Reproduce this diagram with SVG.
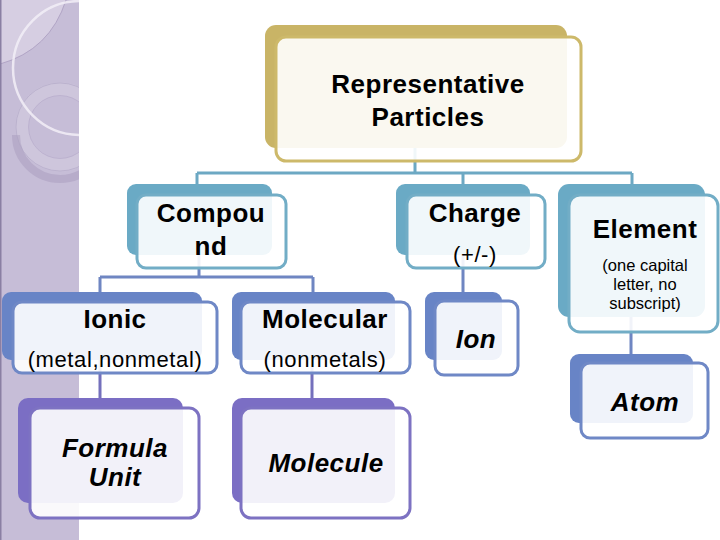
<svg xmlns="http://www.w3.org/2000/svg" width="720" height="540" viewBox="0 0 720 540">
<defs>
<style>
.t{font-family:"Liberation Sans",Arial,sans-serif;fill:#000;text-anchor:middle}
.b{font-weight:bold;font-size:26px;letter-spacing:0.5px}
.bi{font-weight:bold;font-style:italic;font-size:26px;letter-spacing:0.5px}
.n{font-size:22px;letter-spacing:0.6px}
.s{font-size:16.5px}
.front{fill:#ffffff;fill-opacity:0.9;stroke-width:3}
.gold{fill:#c9b466}
.teal{fill:#6aaac5}
.blue{fill:#6884c6}
.purp{fill:#7b6ec4}
.sgold{stroke:#cdb96a}
.steal{stroke:#72adc6}
.sblue{stroke:#6f88c6}
.spurp{stroke:#7d72c2}
.c{fill:none;stroke-width:3}
</style>
<clipPath id="pc"><rect x="0" y="0" width="79" height="540"/></clipPath>
</defs>
<rect width="720" height="540" fill="#ffffff"/>
<g id="side-panel">
<rect x="0" y="0" width="79" height="540" fill="#c6bdd7"/>
<path d="M0,0 H66 Q50,50 0,64 Z" fill="#d6cee2"/>
<path d="M0,64 Q50,50 66,0" fill="none" stroke="#a99cbf" stroke-width="0.8"/>
<g clip-path="url(#pc)">
<circle cx="60" cy="127" r="38" fill="none" stroke="#ffffff" stroke-opacity="0.14" stroke-width="13"/>
<path d="M16,135 A44,44 0 0,0 104,135" fill="none" stroke="#9a8db3" stroke-opacity="0.35" stroke-width="8"/>
<circle cx="60" cy="127" r="44" fill="none" stroke="#a598bc" stroke-opacity="0.45" stroke-width="1"/>
<circle cx="60" cy="127" r="31.5" fill="none" stroke="#a598bc" stroke-opacity="0.35" stroke-width="1"/>
<circle cx="80" cy="68" r="67" fill="none" stroke="#f2eef7" stroke-opacity="0.85" stroke-width="2.5"/>
</g>
<rect x="0" y="0" width="1.5" height="540" fill="#8a7fa3"/>
</g>
<g id="connectors">
<path class="c" stroke="#6ca8c3" d="M415,148 V173 M197,173 H632 M197,173 V186 M463,173 V186 M632,173 V186"/>
<path class="c" stroke="#6f86c2" d="M199,255 V277 M100,277 H313 M100,277 V294 M313,277 V294 M463,255 V294 M631,317 V356"/>
<path class="c" stroke="#7470bc" d="M100,360 V400 M312,360 V400"/>
</g>
<g id="representative-particles">
<rect class="gold" x="265" y="25" width="302" height="123" rx="11"/>
<rect class="front sgold" x="276" y="37" width="305" height="124" rx="10"/>
<text class="t b" x="428" y="93">Representative</text>
<text class="t b" x="428" y="126">Particles</text>
</g>
<g id="compound">
<rect class="teal" x="127" y="184" width="145" height="71" rx="9"/>
<rect class="front steal" x="137" y="195" width="149" height="73" rx="9"/>
<text class="t b" x="211" y="222">Compou</text>
<text class="t b" x="211" y="255">nd</text>
</g>
<g id="charge">
<rect class="teal" x="396" y="184" width="134" height="71" rx="9"/>
<rect class="front steal" x="407" y="195" width="138" height="73" rx="9"/>
<text class="t b" x="475" y="222">Charge</text>
<text class="t n" x="475" y="262">(+/-)</text>
</g>
<g id="element">
<rect class="teal" x="558" y="184" width="147" height="133" rx="11"/>
<rect class="front steal" x="569" y="195" width="149" height="137" rx="11"/>
<text class="t b" x="645" y="238">Element</text>
<text class="t s" x="645" y="271">(one capital</text>
<text class="t s" x="645" y="290">letter, no</text>
<text class="t s" x="645" y="309">subscript)</text>
</g>
<g id="ionic">
<rect class="blue" x="2" y="292" width="200" height="68" rx="9"/>
<rect class="front sblue" x="13" y="302" width="204" height="71" rx="9"/>
<text class="t b" x="115" y="328">Ionic</text>
<text class="t n" x="115" y="367">(metal,nonmetal)</text>
</g>
<g id="molecular">
<rect class="blue" x="232" y="292" width="163" height="68" rx="9"/>
<rect class="front sblue" x="241" y="302" width="169" height="71" rx="9"/>
<text class="t b" x="325" y="328">Molecular</text>
<text class="t n" x="325" y="367">(nonmetals)</text>
</g>
<g id="ion">
<rect class="blue" x="425" y="292" width="77" height="68" rx="9"/>
<rect class="front sblue" x="435" y="301" width="83" height="74" rx="9"/>
<text class="t bi" x="476" y="348">Ion</text>
</g>
<g id="atom">
<rect class="blue" x="570" y="354" width="123" height="69" rx="9"/>
<rect class="front sblue" x="581" y="363" width="127" height="75" rx="9"/>
<text class="t bi" x="645" y="411">Atom</text>
</g>
<g id="formula-unit">
<rect class="purp" x="18" y="398" width="165" height="105" rx="10"/>
<rect class="front spurp" x="30" y="408" width="169" height="110" rx="10"/>
<text class="t bi" x="115" y="457">Formula</text>
<text class="t bi" x="115" y="486">Unit</text>
</g>
<g id="molecule">
<rect class="purp" x="232" y="398" width="163" height="105" rx="10"/>
<rect class="front spurp" x="241" y="408" width="169" height="110" rx="10"/>
<text class="t bi" x="326" y="472">Molecule</text>
</g>
</svg>
